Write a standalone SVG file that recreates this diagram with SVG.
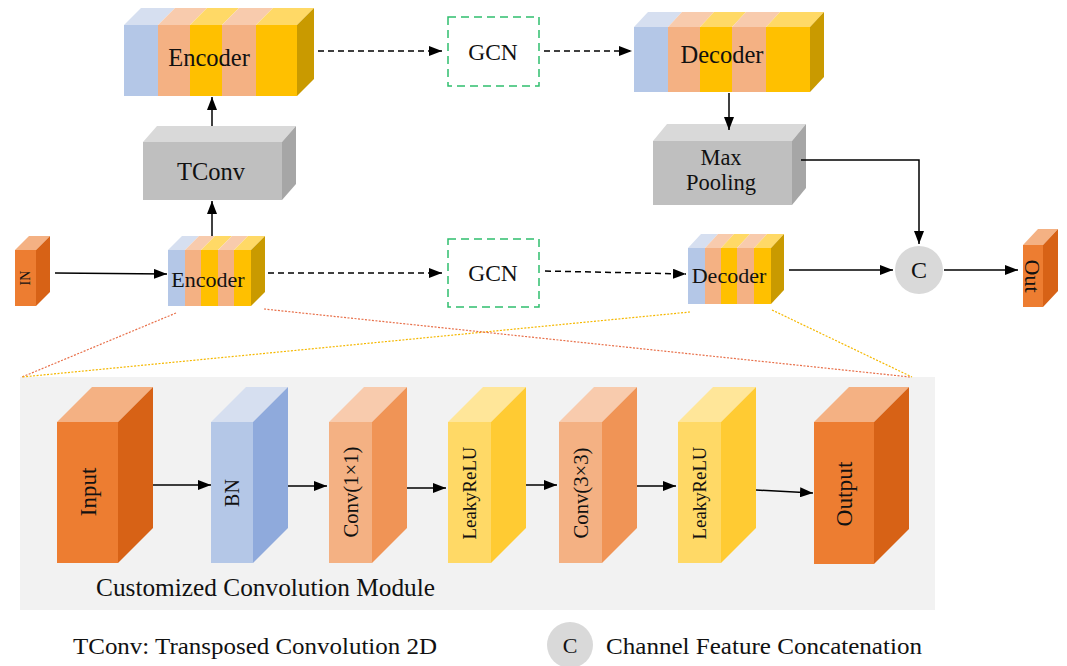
<svg xmlns="http://www.w3.org/2000/svg" width="1067" height="666" viewBox="0 0 1067 666">
  <defs>
    <marker id="arrow" markerUnits="userSpaceOnUse" markerWidth="14" markerHeight="10" refX="13" refY="5" orient="auto">
      <path d="M0,0 L13,5 L0,10 z" fill="#000"/>
    </marker>
    <style>
      text { font-family: "Liberation Serif", "DejaVu Serif", serif; fill: #111; }
      .mid { text-anchor: middle; }
      .blue { fill: #B4C7E7; } .blueTop { fill: #D6DFF0; } .blueSide { fill: #8FAADC; }
      .org { fill: #F4B183; } .orgTop { fill: #F8CBAD; } .orgSide { fill: #F09456; }
      .yel { fill: #FFC000; } .yelTop { fill: #FFD966; } .yelSide { fill: #C99A00; }
      .lyel { fill: #FFD966; } .lyelTop { fill: #FFE699; } .lyelSide { fill: #FFCB33; }
      .dorg { fill: #ED7D31; } .dorgTop { fill: #F4B183; } .dorgSide { fill: #D76216; }
      .gray { fill: #BFBFBF; } .grayTop { fill: #D9D9D9; } .graySide { fill: #A6A6A6; }
      .link { stroke: #000; stroke-width: 1.5; fill: none; marker-end: url(#arrow); }
      .dash { stroke-dasharray: 6 4; }
      .gcn { fill: #fff; stroke: #2FBF6E; stroke-width: 1.5; stroke-dasharray: 8 5; }
      .dotRed { stroke: #E8704A; stroke-width: 1.2; stroke-dasharray: 2 1.5; fill: none; }
      .dotYel { stroke: #F5B800; stroke-width: 1.2; stroke-dasharray: 2 1.5; fill: none; }
      .circ { fill: #D9D9D9; }
    </style>
  </defs>

  <!-- module panel -->
  <rect x="20" y="377" width="915" height="233" fill="#F2F2F2"/>

  <!-- zoom guide lines -->
  <g id="guides">
    <line class="dotRed" x1="176" y1="313" x2="22" y2="377"/>
    <line class="dotYel" x1="690" y1="312" x2="22" y2="377"/>
    <line class="dotRed" x1="264" y1="309" x2="910" y2="377"/>
    <line class="dotYel" x1="772" y1="310" x2="912" y2="377"/>
  </g>

  <!-- upper encoder -->
  <g id="encoder-top">
    <rect class="blue" x="124" y="25" width="34" height="71"/>
    <rect class="org" x="158" y="25" width="32" height="71"/>
    <rect class="yel" x="190" y="25" width="32" height="71"/>
    <rect class="org" x="222" y="25" width="34" height="71"/>
    <rect class="yel" x="256" y="25" width="41" height="71"/>
    <polygon class="blueTop" points="124,25 141,8 175,8 158,25"/>
    <polygon class="orgTop" points="158,25 175,8 207,8 190,25"/>
    <polygon class="yelTop" points="190,25 207,8 239,8 222,25"/>
    <polygon class="orgTop" points="222,25 239,8 273,8 256,25"/>
    <polygon class="yelTop" points="256,25 273,8 314,8 297,25"/>
    <polygon class="yelSide" points="297,25 314,8 314,79 297,96"/>
    <text class="mid" x="209" y="66" font-size="24.5">Encoder</text>
  </g>

  <g id="gcn-top">
    <rect class="gcn" x="448" y="17" width="91" height="69"/>
    <text class="mid" x="493" y="60" font-size="23.5">GCN</text>
  </g>

  <!-- upper decoder -->
  <g id="decoder-top">
    <rect class="blue" x="634" y="27" width="34" height="65"/>
    <rect class="org" x="668" y="27" width="32" height="65"/>
    <rect class="yel" x="700" y="27" width="32" height="65"/>
    <rect class="org" x="732" y="27" width="34" height="65"/>
    <rect class="yel" x="766" y="27" width="44" height="65"/>
    <polygon class="blueTop" points="634,27 648,12 682,12 668,27"/>
    <polygon class="orgTop" points="668,27 682,12 714,12 700,27"/>
    <polygon class="yelTop" points="700,27 714,12 746,12 732,27"/>
    <polygon class="orgTop" points="732,27 746,12 780,12 766,27"/>
    <polygon class="yelTop" points="766,27 780,12 824,12 810,27"/>
    <polygon class="yelSide" points="810,27 824,12 824,77 810,92"/>
    <text class="mid" x="722" y="63" font-size="24.5">Decoder</text>
  </g>

  <g id="tconv">
    <rect class="gray" x="143" y="142" width="139" height="58"/>
    <polygon class="grayTop" points="143,142 157,126 296,126 282,142"/>
    <polygon class="graySide" points="282,142 296,126 296,184 282,200"/>
    <text class="mid" x="211" y="180" font-size="24.5">TConv</text>
  </g>

  <g id="maxpool">
    <rect class="gray" x="653" y="141" width="139" height="64"/>
    <polygon class="grayTop" points="653,141 667,124 806,124 792,141"/>
    <polygon class="graySide" points="792,141 806,124 806,188 792,205"/>
    <text class="mid" x="721" y="165" font-size="22.5">Max</text>
    <text class="mid" x="721" y="190" font-size="22.5">Pooling</text>
  </g>

  <g id="in">
    <rect class="dorg" x="15" y="250" width="21" height="56"/>
    <polygon class="dorgTop" points="15,250 29,236 50,236 36,250"/>
    <polygon class="dorgSide" points="36,250 50,236 50,292 36,306"/>
    <text class="mid" transform="translate(25.5,278) rotate(-90)" dy="0.35em" font-size="14">IN</text>
  </g>

  <!-- lower encoder -->
  <g id="encoder-bottom">
    <rect class="blue" x="168" y="250" width="17" height="56"/>
    <rect class="org" x="185" y="250" width="16" height="56"/>
    <rect class="yel" x="201" y="250" width="17" height="56"/>
    <rect class="org" x="218" y="250" width="16" height="56"/>
    <rect class="yel" x="234" y="250" width="17" height="56"/>
    <polygon class="blueTop" points="168,250 182,236 199,236 185,250"/>
    <polygon class="orgTop" points="185,250 199,236 215,236 201,250"/>
    <polygon class="yelTop" points="201,250 215,236 232,236 218,250"/>
    <polygon class="orgTop" points="218,250 232,236 248,236 234,250"/>
    <polygon class="yelTop" points="234,250 248,236 265,236 251,250"/>
    <polygon class="yelSide" points="251,250 265,236 265,292 251,306"/>
    <text class="mid" x="208" y="287" font-size="22">Encoder</text>
  </g>

  <g id="gcn-bottom">
    <rect class="gcn" x="448" y="239" width="91" height="68"/>
    <text class="mid" x="493" y="281" font-size="23.5">GCN</text>
  </g>

  <!-- lower decoder -->
  <g id="decoder-bottom">
    <rect class="blue" x="688" y="248" width="17" height="56"/>
    <rect class="org" x="705" y="248" width="16" height="56"/>
    <rect class="yel" x="721" y="248" width="16" height="56"/>
    <rect class="org" x="737" y="248" width="17" height="56"/>
    <rect class="yel" x="754" y="248" width="17" height="56"/>
    <polygon class="blueTop" points="688,248 701,234 718,234 705,248"/>
    <polygon class="orgTop" points="705,248 718,234 734,234 721,248"/>
    <polygon class="yelTop" points="721,248 734,234 750,234 737,248"/>
    <polygon class="orgTop" points="737,248 750,234 767,234 754,248"/>
    <polygon class="yelTop" points="754,248 767,234 784,234 771,248"/>
    <polygon class="yelSide" points="771,248 784,234 784,290 771,304"/>
    <text class="mid" x="729" y="283" font-size="22">Decoder</text>
  </g>

  <g id="concat">
    <circle class="circ" cx="919" cy="270" r="24"/>
    <text class="mid" x="919" y="278" font-size="24">C</text>
  </g>

  <g id="out">
    <rect class="dorg" x="1023" y="245" width="20" height="62"/>
    <polygon class="dorgTop" points="1023,245 1038,229 1058,229 1043,245"/>
    <polygon class="dorgSide" points="1043,245 1058,229 1058,291 1043,307"/>
    <text class="mid" transform="translate(1033,276) rotate(90)" dy="0.35em" font-size="22">Out</text>
  </g>

  <!-- customized convolution module -->
  <g id="m-input">
    <rect class="dorg" x="57" y="422" width="61" height="141"/>
    <polygon class="dorgTop" points="57,422 92,387 153,387 118,422"/>
    <polygon class="dorgSide" points="118,422 153,387 153,528 118,563"/>
    <text class="mid" transform="translate(87.5,492) rotate(-90)" dy="0.35em" font-size="23">Input</text>
  </g>
  <g id="m-bn">
    <rect class="blue" x="211" y="422" width="42" height="141"/>
    <polygon class="blueTop" points="211,422 246,387 288,387 253,422"/>
    <polygon class="blueSide" points="253,422 288,387 288,528 253,563"/>
    <text class="mid" transform="translate(232,493) rotate(-90)" dy="0.35em" font-size="20">BN</text>
  </g>
  <g id="m-conv1">
    <rect class="org" x="329" y="422" width="43" height="141"/>
    <polygon class="orgTop" points="329,422 364,387 407,387 372,422"/>
    <polygon class="orgSide" points="372,422 407,387 407,528 372,563"/>
    <text class="mid" transform="translate(350.5,492) rotate(-90)" dy="0.35em" font-size="20.7">Conv(1×1)</text>
  </g>
  <g id="m-leaky1">
    <rect class="lyel" x="448" y="422" width="43" height="141"/>
    <polygon class="lyelTop" points="448,422 483,387 526,387 491,422"/>
    <polygon class="lyelSide" points="491,422 526,387 526,528 491,563"/>
    <text class="mid" transform="translate(469.5,493) rotate(-90)" dy="0.35em" font-size="18.8">LeakyReLU</text>
  </g>
  <g id="m-conv3">
    <rect class="org" x="559" y="422" width="43" height="141"/>
    <polygon class="orgTop" points="559,422 594,387 637,387 602,422"/>
    <polygon class="orgSide" points="602,422 637,387 637,528 602,563"/>
    <text class="mid" transform="translate(580.5,493) rotate(-90)" dy="0.35em" font-size="20.7">Conv(3×3)</text>
  </g>
  <g id="m-leaky2">
    <rect class="lyel" x="678" y="422" width="43" height="141"/>
    <polygon class="lyelTop" points="678,422 713,387 756,387 721,422"/>
    <polygon class="lyelSide" points="721,422 756,387 756,528 721,563"/>
    <text class="mid" transform="translate(699.5,493) rotate(-90)" dy="0.35em" font-size="18.8">LeakyReLU</text>
  </g>
  <g id="m-output">
    <rect class="dorg" x="814" y="422" width="60" height="142"/>
    <polygon class="dorgTop" points="814,422 849,387 909,387 874,422"/>
    <polygon class="dorgSide" points="874,422 909,387 909,529 874,564"/>
    <text class="mid" transform="translate(844,494) rotate(-90)" dy="0.35em" font-size="23.4">Output</text>
  </g>
  <text x="96" y="596" font-size="24.5" textLength="339" lengthAdjust="spacingAndGlyphs">Customized Convolution Module</text>

  <!-- connectors -->
  <g id="connectors">
    <line class="link" x1="55" y1="273" x2="167" y2="274"/>
    <line class="link" x1="212" y1="236" x2="212" y2="201"/>
    <line class="link" x1="212" y1="126" x2="212" y2="97"/>
    <line class="link dash" x1="318" y1="51" x2="442" y2="51"/>
    <line class="link dash" x1="544" y1="51" x2="632" y2="51"/>
    <line class="link" x1="729" y1="93" x2="729" y2="130"/>
    <polyline class="link" points="801,160 919,160 919,244"/>
    <line class="link dash" x1="268" y1="273" x2="442" y2="273"/>
    <line class="link dash" x1="545" y1="271" x2="686" y2="274"/>
    <line class="link" x1="789" y1="270" x2="893" y2="270"/>
    <line class="link" x1="944" y1="270" x2="1018" y2="270"/>
    <line class="link" x1="153" y1="485" x2="211" y2="485"/>
    <line class="link" x1="288" y1="486" x2="327" y2="486"/>
    <line class="link" x1="407" y1="488" x2="446" y2="488"/>
    <line class="link" x1="526" y1="485" x2="557" y2="485"/>
    <line class="link" x1="637" y1="486" x2="676" y2="486"/>
    <line class="link" x1="756" y1="490" x2="813" y2="493"/>
  </g>

  <!-- legend -->
  <g id="legend">
    <text x="73" y="654" font-size="24" textLength="364" lengthAdjust="spacingAndGlyphs">TConv: Transposed Convolution 2D</text>
    <circle class="circ" cx="570" cy="645" r="23"/>
    <text class="mid" x="570" y="653" font-size="22">C</text>
    <text x="606" y="654" font-size="24" textLength="316" lengthAdjust="spacingAndGlyphs">Channel Feature Concatenation</text>
  </g>
</svg>
